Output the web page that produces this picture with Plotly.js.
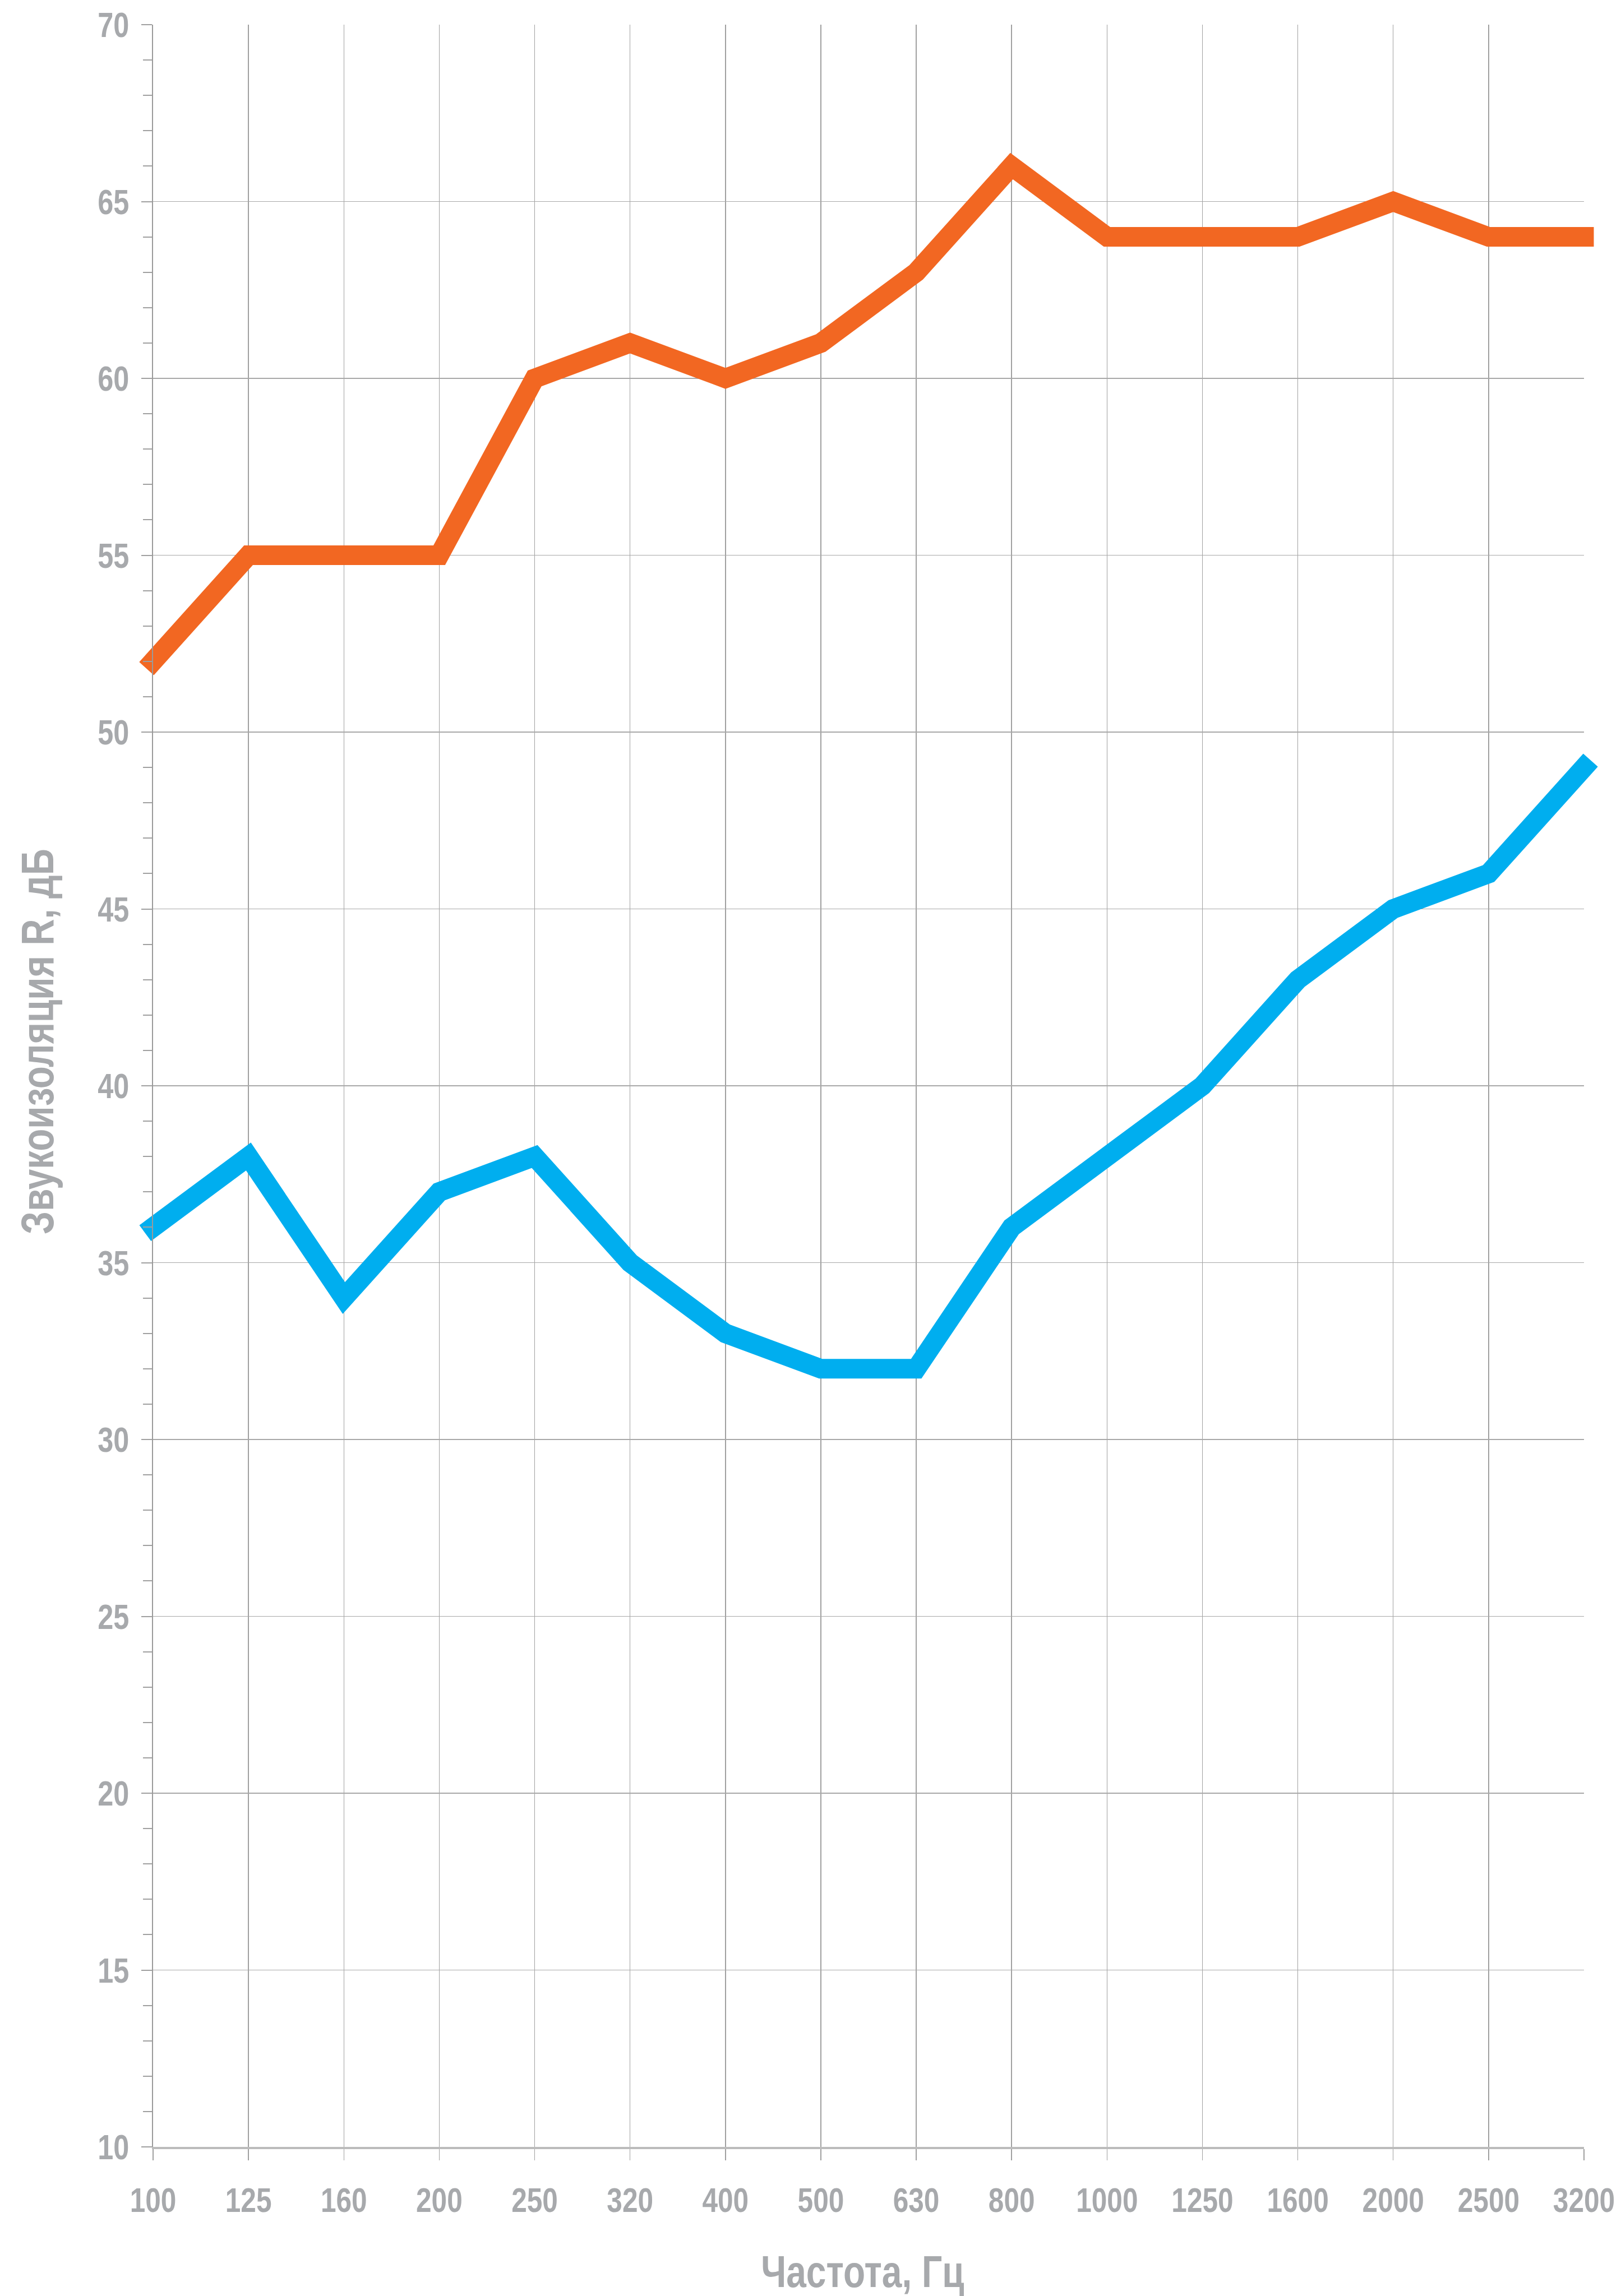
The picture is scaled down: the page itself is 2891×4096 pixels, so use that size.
<!DOCTYPE html>
<html>
<head>
<meta charset="utf-8">
<script src="https://cdn.plot.ly/plotly-3.0.1.min.js"></script>
<style>
  html, body { margin: 0; padding: 0; background: #ffffff; }
  #chart { width: 2891px; height: 4096px; }
  .overplot, .overplot *, .scatterlayer, .scatterlayer * { clip-path: none !important; }
  .scatterlayer path.js-line { stroke-linecap: square !important; stroke-linejoin: miter !important; }
</style>
</head>
<body>
<div id="chart"></div>
<script>
// Frequencies (Hz) – category labels
const frequencies = ["100", "125", "160", "200", "250", "320", "400", "500", "630", "800", "1000", "1250", "1600", "2000", "2500", "3200"];
// Sound insulation R, dB
const seriesOrange = [52, 55, 55, 55, 60, 61, 60, 61, 63, 66, 64, 64, 64, 65, 64, 64];
const seriesBlue   = [36, 38, 34, 37, 38, 35, 33, 32, 32, 36, 38, 40, 43, 45, 46, 49];
// Y tick values
const yTicks = [10, 15, 20, 25, 30, 35, 40, 45, 50, 55, 60, 65, 70];
const xTitle = "Частота, Гц";
const yTitle = "Звукоизоляция R, дБ";

const FONT = "'Liberation Sans', Arial, sans-serif";
const GREY = "#a7a9ac";
const NARROW = 0.8; // horizontal squeeze to imitate a narrow bold face

// half-category positions for the minor x ticks
const minorX = [];
for (let i = 0; i < frequencies.length - 1; i++) minorX.push(i + 0.5);

const traces = [
  {
    x: frequencies, y: seriesOrange, type: "scatter", mode: "lines",
    line: { color: "#f26722", width: 35 },
    cliponaxis: false, showlegend: false, hoverinfo: "skip"
  },
  {
    x: frequencies, y: seriesBlue, type: "scatter", mode: "lines",
    line: { color: "#00aeef", width: 35 },
    cliponaxis: false, showlegend: false, hoverinfo: "skip"
  }
];

const layout = {
  width: 2891, height: 4096,
  margin: { l: 273, r: 66, t: 44, b: 266, pad: 0 },
  paper_bgcolor: "#ffffff", plot_bgcolor: "#ffffff",
  showlegend: false,
  font: { family: FONT, color: GREY, size: 62, weight: 700 },
  xaxis: {
    type: "category",
    range: [0, frequencies.length - 1],
    tickmode: "array",
    tickvals: frequencies,
    ticktext: frequencies,
    showgrid: true, gridcolor: "#a0a0a0", gridwidth: 1.5,
    ticks: "outside", ticklen: 20, tickwidth: 1.5, tickcolor: "#a0a0a0",
    ticklabelstandoff: 18,
    tickfont: { family: FONT, size: 62, color: GREY, weight: 700 },
    showline: true, linecolor: "#bcbcbc", linewidth: 3.5,
    zeroline: false, fixedrange: true
  },
  xaxis2: {
    overlaying: "x", anchor: "y", side: "bottom",
    type: "linear", range: [0, frequencies.length - 1],
    tickmode: "array", tickvals: minorX,
    ticks: "outside", ticklen: 15, tickwidth: 1.5, tickcolor: "#999999",
    showticklabels: false, showgrid: false, zeroline: false, showline: false
  },
  xaxis3: {
    overlaying: "x", anchor: "y", side: "bottom",
    type: "linear", range: [0, frequencies.length - 1],
    tickmode: "array", tickvals: minorX,
    ticks: "inside", ticklen: 16, tickwidth: 1.5, tickcolor: "#999999",
    showticklabels: false, showgrid: false, zeroline: false, showline: false
  },
  yaxis: {
    range: [10, 70],
    tickmode: "array", tickvals: yTicks,
    showgrid: true, gridcolor: "#a8a8a8", gridwidth: 1.5,
    ticks: "outside", ticklen: 19, tickwidth: 2, tickcolor: "#a0a0a0",
    minor: { dtick: 1, tick0: 10, ticks: "outside", ticklen: 16, tickwidth: 2, tickcolor: "#a0a0a0", showgrid: false },
    ticklabelstandoff: 9,
    tickfont: { family: FONT, size: 63, color: GREY, weight: 700 },
    showline: true, linecolor: "#9a9a9a", linewidth: 2,
    zeroline: false, fixedrange: true
  },
  annotations: [
    {
      text: xTitle, xref: "paper", yref: "paper",
      x: 0.4957, y: -0.0587, xanchor: "center", yanchor: "middle",
      showarrow: false,
      font: { family: FONT, size: 80, color: GREY, weight: 700 }
    },
    {
      text: yTitle, xref: "paper", yref: "paper",
      x: -0.0807, y: 0.5209, xanchor: "center", yanchor: "middle",
      textangle: -90, showarrow: false,
      font: { family: FONT, size: 82, color: GREY, weight: 700 }
    }
  ]
};

function squeeze(selector, k) {
  document.querySelectorAll(selector).forEach(function (t) {
    if (t.getAttribute("data-squeezed")) return;
    t.setAttribute("data-squeezed", "1");
    const x = parseFloat(t.getAttribute("x")) || 0;
    const y = parseFloat(t.getAttribute("y")) || 0;
    const tr = t.getAttribute("transform") || "";
    t.setAttribute("transform",
      tr + " translate(" + x + "," + y + ") scale(" + k + ",1) translate(" + (-x) + "," + (-y) + ")");
  });
}

function unclip() {
  // let the thick lines run past the plot edges, as in the original
  document.querySelectorAll(".overplot [clip-path], .overplot[clip-path], .scatterlayer [clip-path]").forEach(function (e) {
    e.removeAttribute("clip-path");
  });
}

Plotly.newPlot("chart", traces, layout, { staticPlot: true, displayModeBar: false }).then(function () {
  squeeze(".xtick text, .ytick text, .annotation-text", NARROW);
  unclip();
  setTimeout(unclip, 50);
});
</script>
</body>
</html>
